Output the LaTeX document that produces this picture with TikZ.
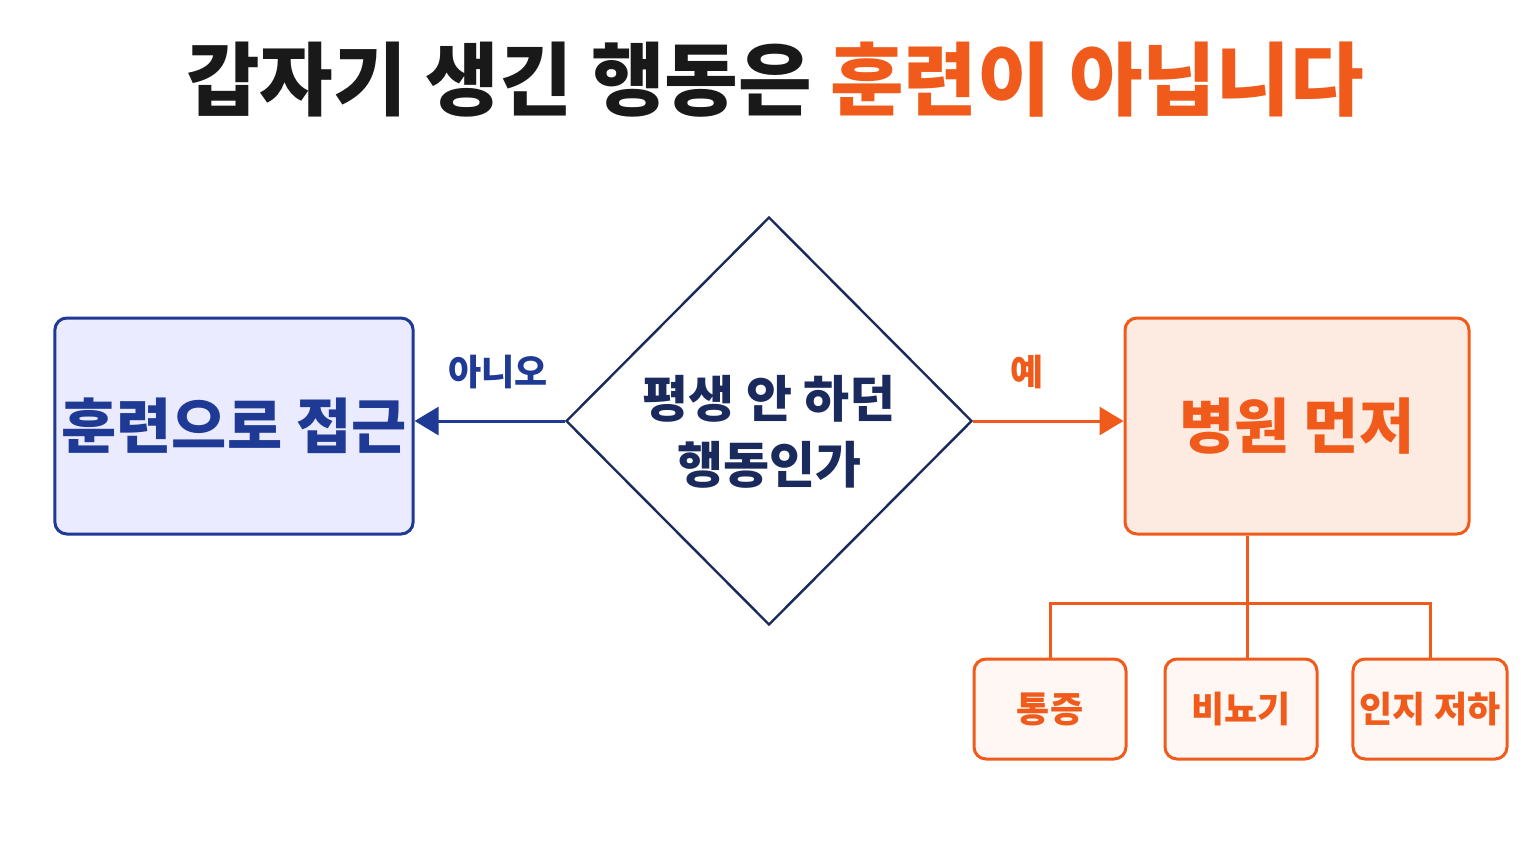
\documentclass[tikz,border=0pt]{standalone}
\usepackage{fontspec}
\setmainfont{Noto Sans CJK KR}
\usetikzlibrary{shapes.geometric,arrows.meta}
\definecolor{navy}{HTML}{1A2A5C}
\definecolor{blu}{HTML}{1E3A94}
\definecolor{org}{HTML}{F05A1A}
\begin{document}
\begin{tikzpicture}[x=0.5pt,y=-0.5pt,
  box/.style={draw,line width=1.5pt,rounded corners=6pt},
  small/.style={box,draw=org,fill=org!5,rounded corners=6pt,minimum width=76pt,minimum height=50pt,text=org,font=\bfseries\fontsize{18}{20}\selectfont}]
\useasboundingbox[fill=white] (0,0) rectangle (1536,864);
\node (title) at (775,80) {\bfseries\fontsize{40}{44}\selectfont\color{black!90}갑자기 생긴 행동은 \textcolor{org}{훈련이 아닙니다}};
\node[box,draw=blu,fill=blue!8,minimum width=171pt,minimum height=108pt,text=blu,font=\bfseries\fontsize{30}{34}\selectfont] (L) at (234,426) {훈련으로 접근};
\node[draw=navy,line width=1.2pt,diamond,minimum width=203pt,minimum height=204pt,inner sep=0pt] (D) at (769,421) {};
\node[text=navy,align=center,font=\bfseries\fontsize{25}{33}\selectfont] (Dt) at (769,432) {평생 안 하던\\행동인가};
\node[box,draw=org,fill=org!13,minimum width=172pt,minimum height=108pt,text=org,font=\bfseries\fontsize{30}{34}\selectfont] (R) at (1297,426) {병원 먼저};
\draw[blu,line width=1.5pt,-{Triangle[length=12pt,width=14pt]}] (D.west) -- (L.east |- D.west);
\draw[org,line width=1.5pt,-{Triangle[length=12pt,width=14pt]}] (D.east) -- (R.west |- D.east);
\node[text=blu,font=\bfseries\fontsize{18}{20}\selectfont] (no) at (498,372) {아니오};
\node[text=org,font=\bfseries\fontsize{18}{20}\selectfont] (yes) at (1027,372) {예};
\node[small] (a) at (1050,709) {통증};
\node[small] (b) at (1241,709) {비뇨기};
\node[small] (c) at (1430,709) {인지 저하};
\coordinate (j) at (1247,603);
\draw[org,line width=1.5pt] (R.south -| j) -- (j);
\draw[org,line width=1.5pt] (a.north) -- (a.north |- j) -- (c.north |- j) -- (c.north);
\draw[org,line width=1.5pt] (j) -- (b.north -| j);
\end{tikzpicture}
\end{document}
